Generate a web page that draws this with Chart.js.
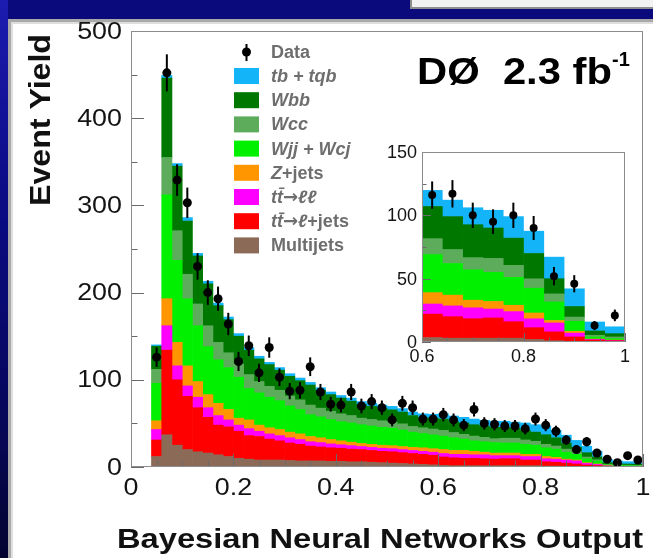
<!DOCTYPE html>
<html>
<head>
<meta charset="utf-8">
<script src="https://cdn.jsdelivr.net/npm/chart.js@4.4.0/dist/chart.umd.min.js"></script>
<style>
  html, body { margin: 0; padding: 0; }
  body {
    width: 653px; height: 558px; overflow: hidden; position: relative;
    background: linear-gradient(to bottom, #1c1cb0 0%, #0b0b86 35%, #06065a 75%, #030330 100%);
  }
  #topband { position: absolute; left: 8px; top: 0; width: 660px; height: 20px; background: #0a0a7c; }
  #topbox { position: absolute; left: 410px; top: -3px; width: 260px; height: 8px; background: #f2f2f2; border: 2px solid #8e8e8e; }
  #panel {
    position: absolute; left: 8px; top: 19px; width: 660px; height: 560px; background: #fff;
    border-top: 3px solid #a9a9a9; border-left: 3px solid #a9a9a9; box-sizing: border-box;
    box-shadow: inset 2px 2px 0 #dedede;
  }
  canvas { position: absolute; }
  #main { left: 0; top: 0; }
  #inset { left: 380px; top: 140px; }
</style>
</head>
<body>
<div id="topband"></div>
<div id="topbox"></div>
<div id="panel"></div>
<canvas id="main" width="653" height="558"></canvas>
<canvas id="inset" width="260" height="230"></canvas>
<script>
// bins of the main histogram (centres)
var binCenters = [0.01, 0.03, 0.05, 0.07, 0.09, 0.11, 0.13, 0.15, 0.17, 0.19,
  0.21, 0.23, 0.25, 0.27, 0.29, 0.31, 0.33, 0.35, 0.37, 0.39,
  0.41, 0.43, 0.45, 0.47, 0.49, 0.51, 0.53, 0.55, 0.57, 0.59,
  0.61, 0.63, 0.65, 0.67, 0.69, 0.71, 0.73, 0.75, 0.77, 0.79,
  0.81, 0.83, 0.85, 0.87, 0.89, 0.91, 0.93, 0.95, 0.97, 0.99];

var dataCounts = [null, null, 126, 452, 329, 303, 230, 200, 193, 164,
  121, 139, 108, 137, 103, 87, 88, 115, 86, 72,
  71, 86, 70, 75, 68, 54, 73, 68, 55, 55,
  60, 54, 48, 66, 50, 49, 47, 47, 44, 55,
  48, 41, 31, 20, 29, 16, 9, 5, 13, 8];

// stack, bottom first
var multijets = [0, 0, 12, 37, 25, 20, 17.5, 16, 14, 12,
  10, 9, 8, 8, 8, 7.5, 7, 7, 7, 6.5,
  6.5, 6, 6, 5.5, 5, 4.5, 4, 3.5, 3, 2.5,
  2, 1.5, 1.5, 1.5, 1.5, 1.5, 1.5, 1.5, 1.5, 1.5,
  1, 1, 0.5, 0.5, 0.3, 0.2, 0.2, 0.1, 0.1, 0.1];
var ttLjets = [0, 0, 19, 97, 75, 61, 50.5, 41, 34, 34,
  31, 27, 27, 24, 22, 20, 19, 17, 16, 15.5,
  15, 14.5, 14, 13.5, 13, 13, 12.5, 12, 11.5, 11,
  9.5, 9, 8.5, 8.5, 8, 7.5, 8, 8, 6.5, 6.5,
  5, 4.5, 4, 3, 2, 1.5, 0.7, 0.5, 0.4, 0.4];
var ttLL = [0, 0, 12, 28, 16, 12, 12, 11, 11, 8,
  7, 8, 6, 6, 6, 6, 5.5, 5, 5, 4.5,
  4, 4, 3.5, 3.5, 3.5, 3.5, 3.5, 3.5, 3.5, 3.5,
  4, 4, 4.5, 4, 4.5, 4, 3.5, 3.5, 4, 4,
  3.5, 3.5, 3.5, 3.5, 1.8, 1.2, 0.3, 0.2, 0.2, 0.1];
var zJets = [0.8, 0.8, 10, 31, 27, 23, 18, 15, 14, 12,
  8, 10, 7, 7, 7, 6.5, 6.5, 6, 5.5, 5,
  4.5, 4, 3.5, 3.5, 3.5, 3.5, 3.5, 3.5, 4, 4,
  4.5, 4.5, 4.5, 4, 3, 3, 3, 3, 2.5, 2.5,
  2.5, 2, 1, 1, 0.8, 0.6, 0.2, 0.1, 0.1, 0.1];
var wjj = [0, 0, 43, 119, 94, 77, 64, 55, 50, 48,
  47, 36, 37, 35, 33, 30, 28, 25, 24, 23,
  22, 22, 21.5, 21, 20.5, 20, 19, 17.5, 16.5, 16,
  15.5, 14.5, 13, 12, 12, 12, 11.5, 11.5, 11.5, 10.5,
  10, 9.5, 8, 6.5, 4.5, 3.4, 1, 0.7, 0.6, 0.5];
var wcc = [0, 0, 16, 43, 34, 28, 25, 24, 20, 17,
  15, 16, 13, 12.5, 12, 11.5, 11, 11, 10, 9.5,
  9, 8.5, 7.5, 7.5, 7.5, 7, 7, 6.5, 6.5, 6.5,
  6.5, 6, 5.5, 5.5, 5, 4.5, 5.5, 5.5, 5, 4.5,
  4, 3.5, 3.5, 3, 2, 1.4, 0.7, 0.6, 0.7, 0.7];
var wbb = [0, 0, 26.5, 91, 74, 61, 55, 48, 42, 38,
  32, 28, 26, 25, 23, 22.5, 22, 23, 20.5, 19,
  18, 16.5, 15.5, 15, 14.5, 14, 13.5, 12.5, 11.5, 12.5,
  13, 12.5, 13, 13, 13, 13, 12.5, 11.5, 11, 10.5,
  11, 9.5, 7, 5, 5, 3.3, 1.9, 1.5, 1.3, 1.3];
var singleTop = [0, 0, 1.5, 3, 3, 4, 3, 3, 3, 3,
  3, 3, 3, 2.5, 3, 3, 3, 3, 3, 3,
  3, 3.5, 3.5, 3.5, 3.5, 4, 4, 4, 4.5, 4.5,
  6, 6.5, 6.5, 6.5, 6.5, 7, 7, 7, 8.5, 8.5,
  9.5, 8.5, 9, 8, 7.5, 6.5, 3.8, 3.3, 2.7, 2.7];

// inset: 0.6 - 1.0, wider bins
var insetCenters = [0.62, 0.66, 0.70, 0.74, 0.78, 0.82, 0.86, 0.90, 0.94, 0.98];
var insetCounts = [116, 117, 100, 95, 100, 90, 52, 46, 13, 21];
var insMultijets = [3.5, 3, 3, 3, 3, 2, 1, 0.5, 0.3, 0.2];
var insTtLjets = [18.5, 17, 15.4, 16, 13, 9.3, 7, 3.5, 1.2, 0.8];
var insTtLL = [8, 8.5, 8.6, 7, 8, 7, 7, 3, 0.5, 0.3];
var insZJets = [9, 8.5, 6, 6, 5, 4.6, 2, 1.4, 0.3, 0.2];
var insWjj = [30, 25, 24, 23, 22, 19.6, 14.6, 7.9, 1.7, 1.1];
var insWcc = [12.6, 11, 9.6, 11, 9.5, 7.4, 6.4, 3.4, 1.3, 1.4];
var insWbb = [25.4, 26, 26, 24, 21.5, 20, 12, 8.3, 3.4, 2.6];
var insSingleTop = [12.7, 13, 13.4, 14, 17, 17.6, 17, 14, 7.1, 5.4];

var names = ["Multijets", "tt\u0304\u2192\u2113+jets", "tt\u0304\u2192\u2113\u2113", "Z+jets",
  "Wjj + Wcj", "Wcc", "Wbb", "tb + tqb"];
var colors = ["#8c6a58", "#ff0000", "#ff00ff", "#ff9600", "#00f000", "#5cac5c", "#007800", "#14b4f8"];

var yTicksMain = [0, 100, 200, 300, 400, 500];
var xTicksMain = [0, 0.2, 0.4, 0.6, 0.8, 1];
var yTicksInset = [0, 50, 100, 150];
var xTicksInset = [0.6, 0.8, 1];

var FONT = "'Liberation Sans', Arial, sans-serif";

function stackSets(xs, comps) {
  return comps.map(function (c, k) {
    return {
      type: "bar",
      label: names[k],
      stack: "mc",
      data: c.map(function (v, i) { return { x: xs[i], y: v }; }),
      backgroundColor: colors[k],
      borderWidth: 0,
      barPercentage: 1,
      categoryPercentage: 1,
      order: 2,
    };
  });
}

function pointSet(xs, ys, r) {
  var pts = [];
  ys.forEach(function (v, i) {
    if (v !== null) pts.push({ x: xs[i], y: v });
  });
  return {
    type: "scatter",
    stack: "data",
    data: pts,
    pointRadius: r,
    pointBackgroundColor: "#000",
    pointBorderWidth: 0,
    order: 0,
  };
}

function txt(ctx, s, x, y, font, color, align, base, sx) {
  ctx.save();
  ctx.font = font;
  ctx.fillStyle = color;
  ctx.textAlign = align;
  ctx.textBaseline = base;
  ctx.translate(x, y);
  ctx.scale(sx || 1, 1);
  ctx.fillText(s, 0, 0);
  ctx.restore();
}

function textWidth(ctx, s, font) {
  ctx.save();
  ctx.font = font;
  var w = ctx.measureText(s).width;
  ctx.restore();
  return w;
}

function drawErrors(chart, idx) {
  var ctx = chart.ctx, ys = chart.scales.y;
  var meta = chart.getDatasetMeta(idx);
  var raw = chart.data.datasets[idx].data;
  ctx.save();
  ctx.strokeStyle = "#000";
  ctx.lineWidth = 2;
  meta.data.forEach(function (p, i) {
    var v = raw[i].y, e = Math.sqrt(v);
    ctx.beginPath();
    ctx.moveTo(p.x, ys.getPixelForValue(v + e));
    ctx.lineTo(p.x, Math.min(ys.getPixelForValue(Math.max(v - e, 0)), chart.chartArea.bottom));
    ctx.stroke();
  });
  ctx.restore();
}

function drawTicks(chart, yStep, yMajor, xStep, xMajor, len) {
  var ctx = chart.ctx, a = chart.chartArea, xs = chart.scales.x, ys = chart.scales.y;
  ctx.save();
  ctx.strokeStyle = "#6a6a6a";
  ctx.lineWidth = 1;
  var n, v, l, p;
  for (n = 0; n * yStep <= ys.max + 1e-9; n++) {
    v = n * yStep;
    l = (Math.abs(v / yMajor - Math.round(v / yMajor)) < 1e-6) ? len : len / 2;
    p = Math.round(ys.getPixelForValue(v)) + 0.5;
    ctx.beginPath(); ctx.moveTo(a.left, p); ctx.lineTo(a.left + l, p); ctx.stroke();
  }
  for (n = 0; xs.min + n * xStep <= xs.max + 1e-9; n++) {
    v = xs.min + n * xStep;
    l = (Math.abs(v / xMajor - Math.round(v / xMajor)) < 1e-6) ? len : len / 2;
    p = Math.round(xs.getPixelForValue(v)) + 0.5;
    ctx.beginPath(); ctx.moveTo(p, a.bottom); ctx.lineTo(p, a.bottom - l); ctx.stroke();
  }
  ctx.strokeStyle = "#8c8c8c";
  ctx.strokeRect(a.left + 0.5, a.top + 0.5, a.right - a.left - 1, a.bottom - a.top - 1);
  ctx.restore();
}

var legendRows = [
  [["tb + tqb", 1]],
  [["Wbb", 1]],
  [["Wcc", 1]],
  [["Wjj + Wcj", 1]],
  [["Z", 1], ["+jets", 0]],
  [["tt\u0304", 1], ["\u2192", 0], ["\u2113\u2113", 1]],
  [["tt\u0304", 1], ["\u2192", 0], ["\u2113", 1], ["+jets", 0]],
  [["Multijets", 0]],
];

var mainDeco = {
  id: "mainDeco",
  afterDatasetsDraw: function (chart) {
    var ctx = chart.ctx, xs = chart.scales.x, ys = chart.scales.y;
    drawTicks(chart, 50, 100, 0.05, 0.2, 13);
    drawErrors(chart, 8);

    yTicksMain.forEach(function (v) {
      txt(ctx, String(v), 122, ys.getPixelForValue(v) + 1, "24px " + FONT, "#141414", "right", "middle", 1.12);
    });
    xTicksMain.forEach(function (v) {
      txt(ctx, String(v), xs.getPixelForValue(v), 488, "24px " + FONT, "#141414", "center", "middle", 1.12);
    });

    // axis titles
    var w = textWidth(ctx, "Event Yield", "bold 30px " + FONT);
    ctx.save();
    ctx.font = "bold 30px " + FONT;
    ctx.translate(42, 34);
    ctx.rotate(-Math.PI / 2);
    ctx.scale(172 / w, 1);
    ctx.fillStyle = "#111";
    ctx.textAlign = "right";
    ctx.textBaseline = "middle";
    ctx.fillText("Event Yield", 0, 0);
    ctx.restore();

    w = textWidth(ctx, "Bayesian Neural Networks Output", "bold 28px " + FONT);
    txt(ctx, "Bayesian Neural Networks Output", 643, 548, "bold 28px " + FONT, "#111", "right", "alphabetic", 526 / w);

    // experiment label
    w = textWidth(ctx, "D\u00d8  2.3 fb", "bold 36px " + FONT);
    txt(ctx, "D\u00d8  2.3 fb", 417, 84, "bold 36px " + FONT, "#000", "left", "alphabetic", 195 / w);
    txt(ctx, "-1", 612, 66, "bold 20px " + FONT, "#000", "left", "alphabetic", 1);

    // legend
    var grey = "#6e6e6e";
    ctx.save();
    ctx.fillStyle = "#000";
    ctx.beginPath(); ctx.arc(246.5, 52, 4.5, 0, Math.PI * 2); ctx.fill();
    ctx.strokeStyle = "#000"; ctx.lineWidth = 2;
    ctx.beginPath(); ctx.moveTo(246.5, 44); ctx.lineTo(246.5, 61); ctx.stroke();
    ctx.restore();
    txt(ctx, "Data", 271, 53, "bold 18px " + FONT, grey, "left", "middle", 1);
    legendRows.forEach(function (row, k) {
      var cy = 76 + 24.2 * k;
      ctx.fillStyle = colors[colors.length - 1 - k];
      ctx.fillRect(234, cy - 8, 25, 16);
      var x = 271;
      row.forEach(function (seg) {
        var arrow = seg[0] === "\u2192";
        var f = arrow ? "bold 18px 'DejaVu Sans', sans-serif"
          : (seg[1] ? "italic " : "") + "bold 18px " + FONT;
        var sw = textWidth(ctx, seg[0], f);
        txt(ctx, seg[0], x, cy + 1, f, grey, "left", "middle", 1);
        x += sw;
      });
    });
  },
};

var insetDeco = {
  id: "insetDeco",
  beforeDraw: function (chart) {
    var a = chart.chartArea, ctx = chart.ctx;
    ctx.save();
    ctx.fillStyle = "#fff";
    ctx.fillRect(a.left, a.top, a.right - a.left, a.bottom - a.top);
    ctx.restore();
  },
  afterDatasetsDraw: function (chart) {
    var ctx = chart.ctx, xs = chart.scales.x, ys = chart.scales.y;
    drawTicks(chart, 25, 50, 0.05, 0.2, 9);
    drawErrors(chart, 8);
    yTicksInset.forEach(function (v) {
      txt(ctx, String(v), 37, ys.getPixelForValue(v) + 1, "18px " + FONT, "#141414", "right", "middle", 1);
    });
    xTicksInset.forEach(function (v) {
      txt(ctx, String(v), xs.getPixelForValue(v), 217, "18px " + FONT, "#141414", "center", "middle", 1);
    });
  },
};

function baseOptions(pad, xmin, xmax, ymax) {
  return {
    responsive: false,
    animation: false,
    events: [],
    layout: { padding: pad },
    plugins: { legend: { display: false }, tooltip: { enabled: false } },
    scales: {
      x: { type: "linear", min: xmin, max: xmax, stacked: true, offset: false, display: false },
      y: { type: "linear", min: 0, max: ymax, stacked: true, display: false },
    },
  };
}

var mainSets = stackSets(binCenters, [multijets, ttLjets, ttLL, zJets, wjj, wcc, wbb, singleTop]);
mainSets.push(pointSet(binCenters, dataCounts, 4.5));

new Chart(document.getElementById("main"), {
  type: "bar",
  data: { datasets: mainSets },
  options: baseOptions({ left: 131, right: 10, top: 31, bottom: 91 }, 0, 1, 500),
  plugins: [mainDeco],
});

var insetSets = stackSets(insetCenters, [insMultijets, insTtLjets, insTtLL, insZJets, insWjj, insWcc, insWbb, insSingleTop]);
insetSets.push(pointSet(insetCenters, insetCounts, 4));

new Chart(document.getElementById("inset"), {
  type: "bar",
  data: { datasets: insetSets },
  options: baseOptions({ left: 42, right: 15, top: 12, bottom: 28 }, 0.6, 1, 150),
  plugins: [insetDeco],
});
</script>
</body>
</html>
